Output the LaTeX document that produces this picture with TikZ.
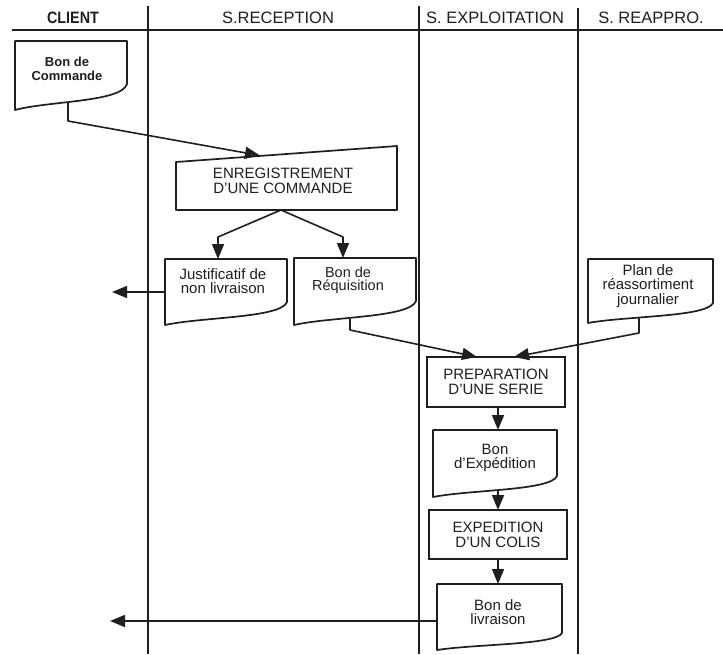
\documentclass[tikz,border=0pt]{standalone}
\usepackage{fontspec}
\setmainfont{Liberation Sans}
\usetikzlibrary{arrows.meta,calc}
\definecolor{ink}{gray}{0.12}
\tikzset{
  shapebox/.style={inner sep=0pt, outer sep=0pt, draw=none},
  outline/.style={draw=ink, line width=1.7pt, line join=round},
  conn/.style={draw=ink, line width=1.6pt, line join=round, -{Triangle[length=15pt,width=12pt]}},
  lane/.style={draw=ink, line width=1.4pt},
  doctext/.style={text=ink, align=center, inner sep=0pt, font=\fontsize{15}{14.5}\selectfont},
  boxtext/.style={text=ink, align=center, inner sep=0pt, font=\fontsize{15}{15}\selectfont},
  head/.style={text=ink, anchor=base, inner sep=0pt, font=\fontsize{16.5}{18}\selectfont},
  procbox/.style={draw=ink, line width=1.7pt, inner sep=0pt, outer sep=0pt, minimum width=138pt,
    text=ink, align=center, font=\fontsize{15}{15}\selectfont}
}
% document symbol: name, L, T, R, yR, yL
\newcommand\mydoc[6]{%
  \pgfmathsetmacro\dW{#4-#2}%
  \pgfmathsetmacro\dD{#6-#5}%
  \pgfmathsetmacro\dH{#6-#3}%
  \node[shapebox, minimum width=\dW pt, minimum height=\dH pt] (#1) at ({(#2+#4)/2},{(#3+#6)/2}) {};
  \draw[outline] (#2,#3) -- (#4,#3) -- (#4,#5)
     .. controls ({#4-0.05*\dW},{#6-0.3*\dD}) and ({#2+0.3*\dW},{#6-0.35*\dD}) .. (#2,#6) -- cycle;
}
\begin{document}
\begin{tikzpicture}[x=1pt, y=-1pt]
\useasboundingbox[fill=white] (0,0) rectangle (723,654);

% lanes and header
\draw[lane, line width=2pt] (12,30) -- (723,30);
\draw[lane] (148,6) -- (148,654);
\draw[lane] (419,6) -- (419,654);
\draw[lane] (578,8) -- (578,654);

\node[head] (hclient) at (73,23) {\scalebox{0.87}[1]{\bfseries CLIENT}};
\node[head] (hrec) at (278,23) {S.RECEPTION};
\node[head] (hexp) at (495,23) {S. EXPLOITATION};
\node[head] (hrea) at (651,23) {S. REAPPRO.};

% documents
\mydoc{bc}{15}{41}{127}{84}{110}
\node[doctext, font=\fontsize{13}{14}\selectfont\bfseries] (bct) at (67,69) {Bon de\\Commande};

\mydoc{jn}{165}{259}{287}{302}{325}
\node[doctext] (jnt) at (223,281) {Justificatif de\\non livraison};

\mydoc{br}{294}{258}{416}{301}{325}
\node[doctext, font=\fontsize{14.5}{13.5}\selectfont] (brt) at (348,280) {Bon de\\Réquisition};

\mydoc{pl}{588}{259}{713}{303}{323}
\node[doctext] (plt) at (648,286) {Plan de\\réassortiment\\journalier};

\mydoc{be}{433}{430}{557}{476}{497}
\node[doctext] (bet) at (495,458) {Bon\\d'Expédition};

\mydoc{bl}{437}{584}{562}{633}{650}
\node[doctext] (blt) at (498,612) {Bon de\\livraison};

% ENREGISTREMENT (manual input shape)
\node[shapebox, minimum width=221pt, minimum height=64pt] (enr) at (286.5,178) {};
\draw[outline] ($(enr.north west)+(0,16)$) -- (enr.north east) -- (enr.south east) -- (enr.south west) -- cycle;
\node[boxtext] (enrt) at (283,181) {ENREGISTREMENT\\D'UNE COMMANDE};

% process boxes
\node[procbox, minimum height=50pt] (pr) at (496,382) {PREPARATION\\D'UNE SERIE};
\node[procbox, minimum height=49pt] (ex) at (498,534.5) {EXPEDITION\\D'UN COLIS};

% outgoing free ends
\coordinate (outA) at (112,292);
\coordinate (outB) at (110,621);

% connectors
\draw[conn] ($(bc.south west)+(53,-7)$) -- ++(0,18) -- ($(enr.north west)+(84,9.5)$);
\draw[conn] ($(enr.south)+(-5.5,0)$) -- (218,237) -- ($(jn.north)+(-8,0)$);
\draw[conn] ($(enr.south)+(-5.5,0)$) -- (343,237) -- ($(br.north)+(-12,0)$);
\draw[conn] (jn.west) -- (outA);
\draw[conn] ($(br.south west)+(56,-6)$) -- ++(0,11) -- ($(pr.north west)+(50,0)$);
\draw[conn] ($(pl.south west)+(51,-5)$) -- ++(0,15) -- ($(pr.north west)+(87,0)$);
\draw[conn] ($(pr.south)+(2,0)$) -- ($(be.north)+(3,0)$);
\draw[conn] ($(be.south west)+(65,-7)$) -- (ex.north);
\draw[conn] (ex.south) -- (bl.north -| ex.south);
\draw[conn] ($(bl.west)+(0,4)$) -- (outB);
\end{tikzpicture}
\end{document}
